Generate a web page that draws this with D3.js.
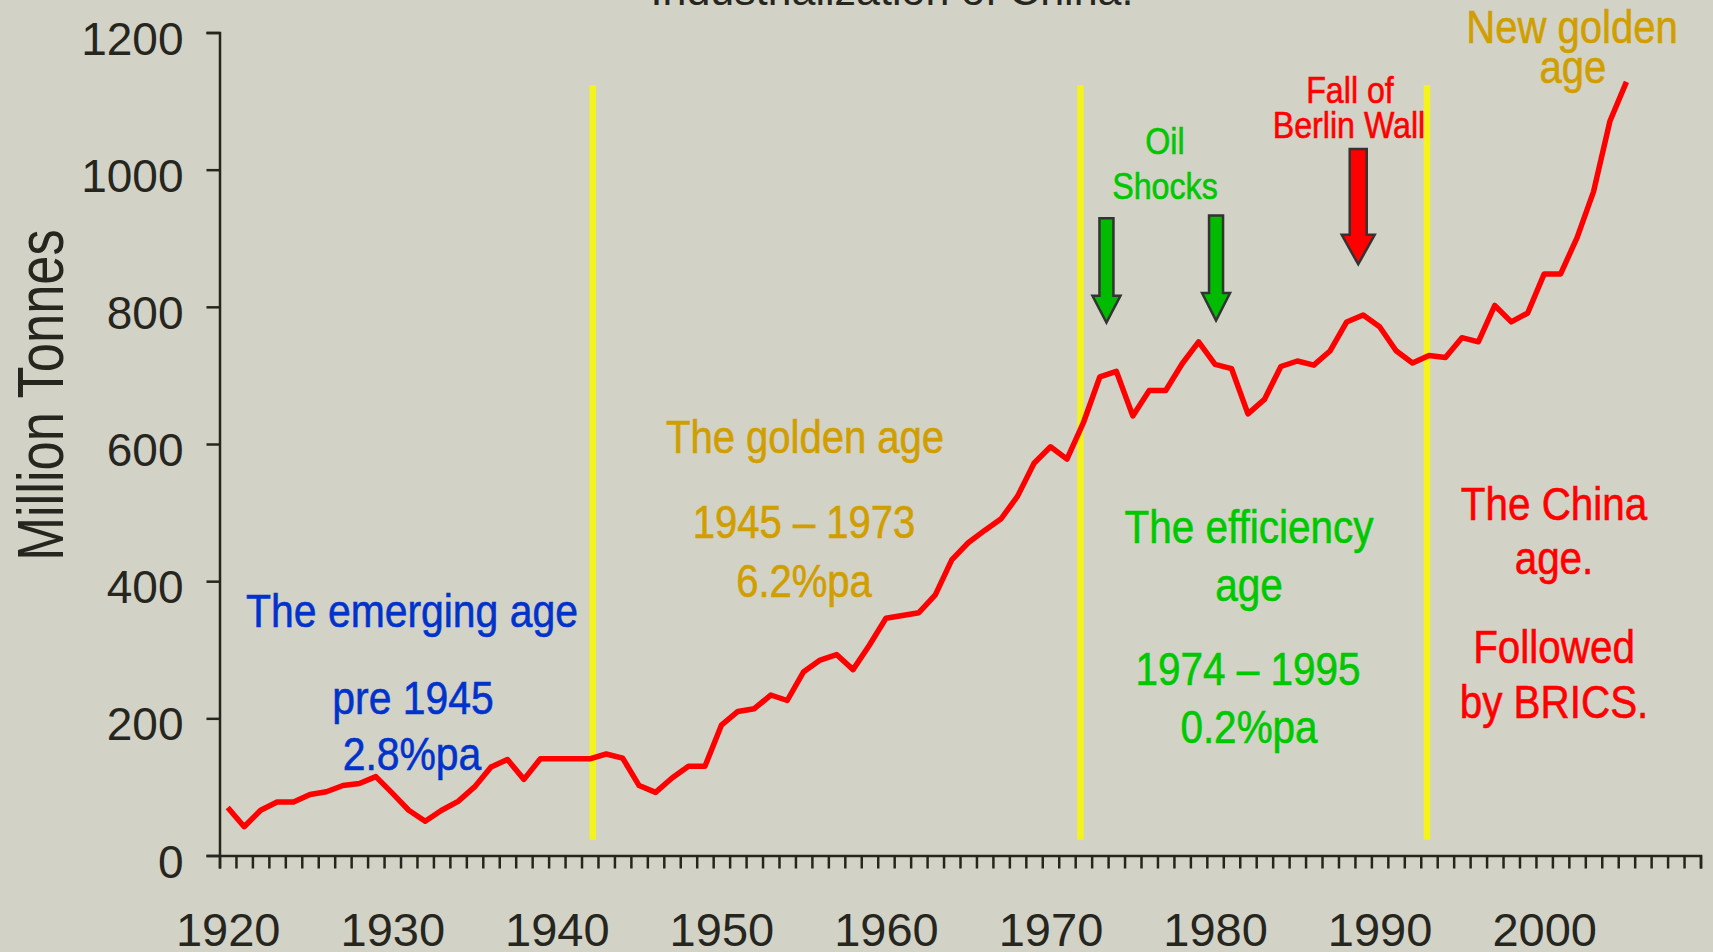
<!DOCTYPE html>
<html>
<head>
<meta charset="utf-8">
<script src="https://cdn.jsdelivr.net/npm/d3@7"></script>
<style>
  html, body { margin: 0; padding: 0; background: #d2d2c6; }
  svg { display: block; font-family: "Liberation Sans", Arial, sans-serif; }
</style>
</head>
<body>
<svg id="container"></svg>
<script>
// steel output, million tonnes, 1920 - 2005
const years = d3.range(1920, 2006);
const tonnes = [
    70, 42, 66, 78, 78, 89, 93, 102, 105, 115,
    91, 66, 50, 66, 79, 100, 129, 140, 111, 141,
    141, 141, 141, 148, 142, 102, 92, 113, 130, 130,
    190, 210, 214, 234, 226, 268, 285, 293, 271, 307,
    346, 350, 354, 380, 431, 456, 474, 491, 524, 572,
    596, 578, 631, 698, 706, 641, 678, 678, 717, 749,
    716, 710, 644, 665, 713, 721, 715, 736, 778, 788,
    771, 736, 718, 729, 726, 755, 749, 802, 778, 791,
    848, 848, 901, 968, 1071, 1128
];
const yTicks = [0, 200, 400, 600, 800, 1000, 1200];
const decadeLabels = [1920, 1930, 1940, 1950, 1960, 1970, 1980, 1990, 2000];
const periodBreaks = [1942.68, 1972.32, 1993.38];

// arrows: year, top of shaft, start of head, tip (all in tonnes)
const arrows = [
    {year: 1973.9, top: 929, head: 816, tip: 777, kind: 'oil'},
    {year: 1980.56, top: 933, head: 820, tip: 780, kind: 'oil'},
    {year: 1989.2, top: 1030, head: 905, tip: 862, kind: 'wall'}
];

const titleText = 'Industrialization of China.';
const emergingText = ['The emerging age', 'pre 1945', '2.8%pa'];
const goldenText = ['The golden age', '1945 \u2013 1973', '6.2%pa'];
const efficiencyText = ['The efficiency', 'age', '1974 \u2013 1995', '0.2%pa'];
const chinaText = ['The China', 'age.', 'Followed', 'by BRICS.'];
const newGoldenText = ['New golden', 'age'];
const oilText = ['Oil', 'Shocks'];
const wallText = ['Fall of', 'Berlin Wall'];

const width = 1713;
const height = 952;

const svg = d3.select('#container')
    .attr('width', width)
    .attr('height', height);

svg.append('rect')
    .attr('width', width)
    .attr('height', height)
    .attr('fill', '#d2d2c6');

const x = d3.scaleLinear().domain([1920, 2010]).range([219.5, 1700.5]);
const y = d3.scaleLinear().domain([0, 1200]).range([855.5, 32.5]);

const ink = '#26261f';

// period separators
svg.selectAll('line.period')
    .data(periodBreaks)
    .enter()
    .append('line')
    .attr('class', 'period')
    .attr('x1', d => x(d))
    .attr('x2', d => x(d))
    .attr('y1', y(1123))
    .attr('y2', y(23))
    .attr('stroke', '#f4f41c')
    .attr('stroke-width', 6.5);

// y axis
const yAxis = svg.append('g')
    .attr('transform', 'translate(' + x(1920) + ',0)')
    .call(d3.axisLeft(y).tickValues(yTicks).tickFormat(d3.format('d'))
        .tickSize(13).tickSizeOuter(13).tickPadding(23));
yAxis.selectAll('text')
    .attr('font-size', 46)
    .attr('font-family', '"Liberation Sans", Arial, sans-serif')
    .attr('fill', ink)
    .attr('dy', '0.47em');

// x axis: one tick per year
const xAxis = svg.append('g')
    .attr('transform', 'translate(0,' + y(0) + ')')
    .call(d3.axisBottom(x).tickValues(d3.range(1920, 2011)).tickFormat('').tickSize(13).tickSizeOuter(13));

const xLabels = svg.append('g')
    .attr('transform', 'translate(0,' + y(0) + ')')
    .call(d3.axisBottom(x).tickValues(decadeLabels.map(d => d + 0.5)).tickFormat(d => Math.floor(d)).tickSize(0).tickPadding(57));
xLabels.select('.domain').remove();
xLabels.selectAll('text')
    .attr('font-size', 47)
    .attr('font-family', '"Liberation Sans", Arial, sans-serif')
    .attr('fill', ink);

[yAxis, xAxis].forEach(function(g) {
    g.selectAll('path, line').attr('stroke', ink).attr('stroke-width', 2.5);
});

// the series
const series = years.map((yr, i) => ({year: yr, value: tonnes[i]}));
const line = d3.line()
    .x(d => x(d.year + 0.5))
    .y(d => y(d.value));

svg.append('path')
    .datum(series)
    .attr('d', line)
    .attr('fill', 'none')
    .attr('stroke', '#ff0000')
    .attr('stroke-width', 5.5)
    .attr('stroke-linejoin', 'round');

// arrows
const arrowStyle = {
    oil: {fill: '#00bb00', shaft: 14, head: 28},
    wall: {fill: '#ff0000', shaft: 17, head: 33}
};
svg.selectAll('path.arrow')
    .data(arrows)
    .enter()
    .append('path')
    .attr('class', 'arrow')
    .attr('d', function(d) {
        const s = arrowStyle[d.kind];
        const cx = x(d.year);
        return 'M' + (cx - s.shaft / 2) + ',' + y(d.top) +
            'H' + (cx + s.shaft / 2) + 'V' + y(d.head) +
            'H' + (cx + s.head / 2) + 'L' + cx + ',' + y(d.tip) +
            'L' + (cx - s.head / 2) + ',' + y(d.head) +
            'H' + (cx - s.shaft / 2) + 'Z';
    })
    .attr('fill', d => arrowStyle[d.kind].fill)
    .attr('stroke', '#333')
    .attr('stroke-width', 2.5)
    .attr('stroke-linejoin', 'miter');

// narrow-looking text (scaled sideways), a thin outline to keep the weight
function note(lines, xs, ys, size, color, squeeze) {
    lines.forEach(function(t, i) {
        svg.append('text')
            .attr('transform', 'translate(' + xs[i] + ',' + ys[i] + ') scale(' + squeeze + ',1)')
            .attr('text-anchor', 'middle')
            .attr('font-size', size)
            .attr('fill', color)
            .attr('stroke', color)
            .attr('stroke-width', 0.6)
            .text(t);
    });
}

note(emergingText, [412, 413, 412], [627, 714, 770], 47, '#0033cc', 0.87);
note(goldenText, [805, 804, 804], [453, 538, 597], 46, '#d19e00', 0.87);
note(efficiencyText, [1249, 1249, 1248, 1249], [543, 601, 685, 743], 46, '#00c800', 0.88);
note(chinaText, [1554, 1554, 1554, 1554], [520, 574, 663, 718], 47, '#ff0000', 0.86);
note(newGoldenText, [1572, 1573], [43, 83], 46, '#d19e00', 0.87);
note(oilText, [1165, 1165], [154, 199], 37, '#00c800', 0.87);
note(wallText, [1350, 1349], [103, 138], 37, '#ff0000', 0.87);

// title, mostly cut off at the top
svg.append('text')
    .attr('x', 892)
    .attr('y', 5)
    .attr('text-anchor', 'middle')
    .attr('font-size', 43)
    .attr('fill', ink)
    .text(titleText);

// y axis title
svg.append('text')
    .attr('transform', 'translate(63,395) rotate(-90) scale(0.82,1)')
    .attr('text-anchor', 'middle')
    .attr('font-size', 64)
    .attr('fill', ink)
    .text('Million Tonnes');
</script>
</body>
</html>
